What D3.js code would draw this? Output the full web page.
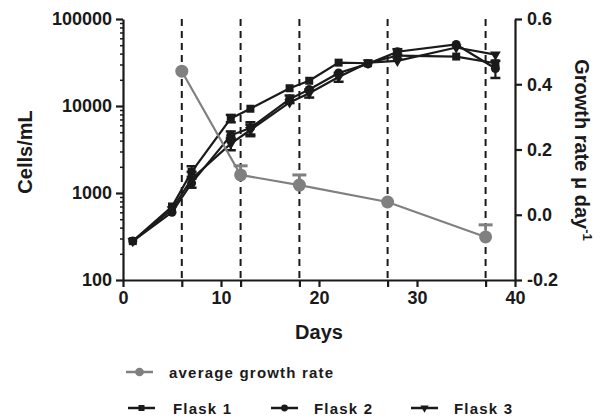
<!DOCTYPE html>
<html>
<head>
<meta charset="utf-8">
<script src="https://cdn.jsdelivr.net/npm/d3@7"></script>
<style>
  body { margin: 0; background: #fff; }
  text { font-family: "Liberation Sans", Arial, sans-serif; font-weight: bold; fill: #1a1a1a; }
</style>
</head>
<body>
<svg id="chart" width="605" height="417"></svg>
<script>
// cell counts (cells/mL) per flask
var days = [1, 5, 7, 11, 13, 17, 19, 22, 25, 28, 34, 38]
var flask1 = [280, 700, 1750, 7200, 9300, 16000, 19500, 31500, 31000, 38000, 37000, 31000]
var flask2 = [280, 600, 1300, 4600, 5600, 12000, 15500, 24000, 30500, 42000, 51000, 27000]
var flask3 = [280, 650, 1450, 3700, 5300, 11000, 14000, 21500, 31500, 33000, 47000, 39000]
var flask1Err = [0, 0, 280, 700, 0, 0, 0, 0, 0, 0, 0, 0]
var flask2Err = [0, 0, 0, 500, 900, 1200, 0, 0, 0, 3000, 0, 6000]
var flask3Err = [0, 0, 300, 600, 800, 0, 1500, 2500, 0, 0, 0, 0]

// average growth rate (per day)
var growthDays = [6, 12, 18, 27, 37]
var growthRate = [0.44, 0.122, 0.091, 0.039, -0.068]
var growthErr = [0, 0.028, 0.031, 0, 0.037]

var xTicks = [0, 6, 10, 12, 18, 20, 27, 30, 37, 40]
var leftTicks = [100, 1000, 10000, 100000]
var rightTicks = [-0.2, 0.0, 0.2, 0.4, 0.6]

var ink = '#1a1a1a'
var grey = '#808080'

var svg = d3.select('#chart')

var x = d3.scaleLinear().domain([0, 40]).range([123, 515])
var yL = d3.scaleLog().domain([100, 100000]).range([280, 19])
var yR = d3.scaleLinear().domain([-0.2, 0.6]).range([280, 19])

// dashed sampling lines
svg.append('g').selectAll('line').data(growthDays).join('line')
  .attr('x1', d => x(d)).attr('x2', d => x(d))
  .attr('y1', yL(100000)).attr('y2', yL(100))
  .attr('stroke', ink).attr('stroke-width', 2).attr('stroke-dasharray', '7,5')

// left log axis with minor ticks
var minor = []
for (var e = 2; e < 5; e++) for (var m = 2; m < 10; m++) minor.push(m * Math.pow(10, e))
svg.append('g').attr('transform', 'translate(123,0)')
  .call(d3.axisLeft(yL).tickValues(minor).tickSize(3).tickFormat(''))
  .call(g => g.select('.domain').remove())
  .selectAll('line').attr('stroke', ink).attr('stroke-width', 1.5)

var gL = svg.append('g').attr('transform', 'translate(123,0)')
  .call(d3.axisLeft(yL).tickValues(leftTicks).tickSize(7).tickSizeOuter(0).tickPadding(4).tickFormat(d3.format('d')))
gL.select('.domain').attr('stroke', ink).attr('stroke-width', 2.2)
gL.selectAll('.tick line').attr('stroke', ink).attr('stroke-width', 2.2)
gL.selectAll('.tick text').attr('font-size', 18).attr('fill', ink).attr('font-family', null)

// bottom axis
var gX = svg.append('g').attr('transform', 'translate(0,280)')
  .call(d3.axisBottom(x).tickValues(xTicks).tickSize(7).tickSizeOuter(0).tickPadding(4)
    .tickFormat(d => d % 10 === 0 ? d : ''))
gX.select('.domain').attr('stroke', ink).attr('stroke-width', 2.2)
gX.selectAll('.tick line').attr('stroke', ink).attr('stroke-width', 2.2)
gX.selectAll('.tick text').attr('font-size', 18).attr('fill', ink).attr('font-family', null)

// right axis
var gR = svg.append('g').attr('transform', 'translate(515,0)')
  .call(d3.axisRight(yR).tickValues(rightTicks).tickSize(7).tickSizeOuter(0).tickPadding(5).tickFormat(d3.format('.1f')))
gR.select('.domain').attr('stroke', ink).attr('stroke-width', 2.2)
gR.selectAll('.tick line').attr('stroke', ink).attr('stroke-width', 2.2)
gR.selectAll('.tick text').attr('font-size', 18).attr('fill', ink).attr('font-family', null)
  .text(d => d3.format('.1f')(d).replace('−', '-'))

// axis titles
svg.append('text').attr('transform', 'translate(32,152) rotate(-90)')
  .attr('text-anchor', 'middle').attr('font-size', 20).text('Cells/mL')
svg.append('text').attr('x', x(20)).attr('y', 339)
  .attr('text-anchor', 'middle').attr('font-size', 20).text('Days')
var rt = svg.append('text').attr('transform', 'translate(575,150) rotate(90)')
  .attr('text-anchor', 'middle').attr('font-size', 20)
rt.append('tspan').text('Growth rate \u03bc day')
rt.append('tspan').attr('font-size', 13).attr('dy', -8).text('-1')

// symbols
var sq = d3.symbol().type(d3.symbolSquare)
var ci = d3.symbol().type(d3.symbolCircle)
var tri = d3.symbol().type(d3.symbolTriangle)

var flasks = [
  { vals: flask1, err: flask1Err, shape: sq, size: 64, rot: 0 },
  { vals: flask2, err: flask2Err, shape: ci, size: 64, rot: 0 },
  { vals: flask3, err: flask3Err, shape: tri, size: 50, rot: 180 }
]

var line = d3.line().x(d => x(d[0])).y(d => yL(d[1]))

flasks.forEach(function (f) {
  var pts = days.map((d, i) => [d, f.vals[i], f.err[i]])
  var g = svg.append('g')
  g.append('path').attr('d', line(pts)).attr('fill', 'none')
    .attr('stroke', ink).attr('stroke-width', 2.2)
  var eb = pts.filter(p => p[2] > 0)
  g.selectAll('line.eb').data(eb).join('line').attr('class', 'eb')
    .attr('x1', p => x(p[0])).attr('x2', p => x(p[0]))
    .attr('y1', p => yL(p[1] + p[2])).attr('y2', p => yL(p[1] - p[2]))
    .attr('stroke', ink).attr('stroke-width', 2.2)
  g.selectAll('line.cap').data(eb.flatMap(p => [[p[0], p[1] + p[2]], [p[0], p[1] - p[2]]])).join('line').attr('class', 'cap')
    .attr('x1', p => x(p[0]) - 5).attr('x2', p => x(p[0]) + 5)
    .attr('y1', p => yL(p[1])).attr('y2', p => yL(p[1]))
    .attr('stroke', ink).attr('stroke-width', 2.5)
  g.selectAll('path.mk').data(pts).join('path').attr('class', 'mk')
    .attr('d', f.shape.size(f.size)())
    .attr('transform', p => 'translate(' + x(p[0]) + ',' + yL(p[1]) + ') rotate(' + f.rot + ')')
    .attr('fill', ink)
})

// growth rate series
var gpts = growthDays.map((d, i) => [d, growthRate[i], growthErr[i]])
var gg = svg.append('g')
gg.append('path').attr('d', d3.line().x(d => x(d[0])).y(d => yR(d[1]))(gpts))
  .attr('fill', 'none').attr('stroke', grey).attr('stroke-width', 2.2)
var geb = gpts.filter(p => p[2] > 0)
gg.selectAll('line.eb').data(geb).join('line').attr('class', 'eb')
  .attr('x1', p => x(p[0])).attr('x2', p => x(p[0]))
  .attr('y1', p => yR(p[1])).attr('y2', p => yR(p[1] + p[2]))
  .attr('stroke', grey).attr('stroke-width', 2.2)
gg.selectAll('line.cap').data(geb).join('line').attr('class', 'cap')
  .attr('x1', p => x(p[0]) - 7).attr('x2', p => x(p[0]) + 7)
  .attr('y1', p => yR(p[1] + p[2])).attr('y2', p => yR(p[1] + p[2]))
  .attr('stroke', grey).attr('stroke-width', 3)
gg.selectAll('circle').data(gpts).join('circle')
  .attr('cx', p => x(p[0])).attr('cy', p => yR(p[1])).attr('r', 6.5)
  .attr('fill', grey)

// legend
var legend = [
  { label: 'average growth rate', color: grey, shape: ci, size: 60, rot: 0, lx: 126, ly: 372, tx: 169 },
  { label: 'Flask 1', color: ink, shape: sq, size: 36, rot: 0, lx: 128, ly: 408, tx: 173 },
  { label: 'Flask 2', color: ink, shape: ci, size: 36, rot: 0, lx: 271, ly: 408, tx: 314 },
  { label: 'Flask 3', color: ink, shape: tri, size: 30, rot: 180, lx: 411, ly: 408, tx: 454 }
]
var lg = svg.append('g').selectAll('g').data(legend).join('g')
lg.append('line').attr('x1', d => d.lx).attr('x2', d => d.lx + 27)
  .attr('y1', d => d.ly).attr('y2', d => d.ly)
  .attr('stroke', d => d.color).attr('stroke-width', 2.5)
lg.append('path').attr('d', d => d.shape.size(d.size)())
  .attr('transform', d => 'translate(' + (d.lx + 13.5) + ',' + d.ly + ') rotate(' + d.rot + ')')
  .attr('fill', d => d.color)
lg.append('text').attr('x', d => d.tx).attr('y', d => d.ly + 5.5)
  .attr('font-size', 15).attr('letter-spacing', 1.2).text(d => d.label)
</script>
</body>
</html>
